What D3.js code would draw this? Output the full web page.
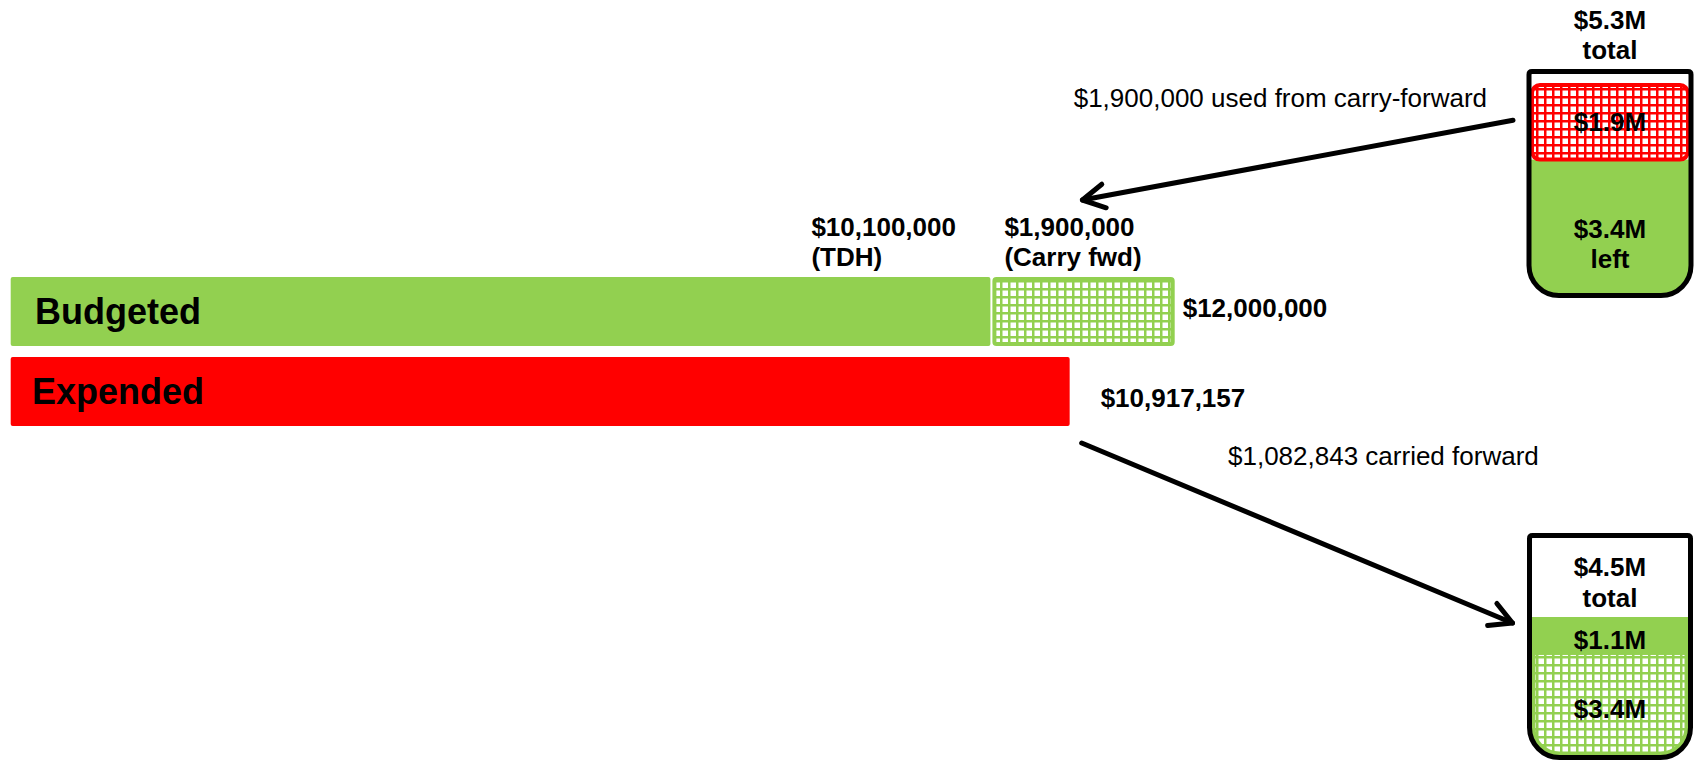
<!DOCTYPE html>
<html>
<head>
<meta charset="utf-8">
<script src="https://cdn.jsdelivr.net/npm/d3@7"></script>
<style>
    body { margin: 0; background: #fff; }
    text { font-family: "Liberation Sans", Arial, sans-serif; fill: #000; }
</style>
</head>
<body>
<div id="chart"></div>
<script>
// ==== Data ====
const barCategories = ["Budgeted", "Expended"];
const budgetSources = ["(TDH)", "(Carry fwd)"];
const budgetValues = [10100000, 1900000];
const expendedValues = [10917157];
const carryUsedText = "$1,900,000 used from carry-forward";
const carriedText = "$1,082,843 carried forward";

// reserve jars, in $M, stacked bottom -> top
const startJarParts = ["left", "used"];
const startJarValues = [3.4, 1.9];
const startJarTotal = 5.3;
const endJarParts = ["old", "new"];
const endJarValues = [3.4, 1.1];
const endJarTotal = 4.5;

const green = "#92d050", red = "#ff0000";
const fmtDollar = d3.format("$,");
const fmtM = d => d3.format("$.1f")(d) + "M";

const width = 1698, height = 761;

const svg = d3.select("#chart")
              .append("svg")
              .attr("width", width)
              .attr("height", height);

const defs = svg.append("defs");

// grid hatch: white squares on coloured lines
function hatch(id, color) {
    const p = defs.append("pattern")
        .attr("id", id)
        .attr("patternUnits", "userSpaceOnUse")
        .attr("width", 8)
        .attr("height", 8);
    p.append("rect").attr("width", 8).attr("height", 8).attr("fill", color);
    p.append("rect").attr("x", 2.5).attr("y", 2.5).attr("width", 5.5).attr("height", 5.5).attr("fill", "#fff");
}
hatch("hatchGreen", green);
hatch("hatchRed", red);

// ==== Bars ====
const x = d3.scaleLinear().domain([0, 11000000]).range([10.7, 10.7 + 1067]);
const y = d3.scaleBand().domain(barCategories).range([277, 426]).paddingInner(0.1375);

const starts = [0, ...d3.cumsum(budgetValues)];

const budgetG = svg.append("g");
budgetG.selectAll("rect")
    .data(budgetValues)
    .enter()
    .append("rect")
    .attr("x", (d, i) => i === 0 ? x(starts[i]) : x(starts[i]) + 4)
    .attr("y", (d, i) => i === 0 ? y("Budgeted") : y("Budgeted") + 2)
    .attr("width", (d, i) => i === 0 ? x(starts[i] + d) - x(starts[i]) : x(starts[i] + d) - x(starts[i]) - 6)
    .attr("height", (d, i) => i === 0 ? y.bandwidth() : y.bandwidth() - 4)
    .attr("rx", 2)
    .attr("fill", (d, i) => i === 0 ? green : "url(#hatchGreen)")
    .attr("stroke", (d, i) => i === 0 ? "none" : green)
    .attr("stroke-width", 4);

svg.append("rect")
    .attr("x", x(0))
    .attr("y", y("Expended"))
    .attr("width", x(expendedValues[0]) - x(0))
    .attr("height", y.bandwidth())
    .attr("rx", 2)
    .attr("fill", red);

// bar names
svg.selectAll("text.cat")
    .data(barCategories)
    .enter()
    .append("text")
    .attr("class", "cat")
    .attr("x", (d, i) => i === 0 ? 35 : 32)
    .attr("y", d => y(d) + y.bandwidth() / 2)
    .attr("dy", "0.36em")
    .style("font-size", "36px")
    .style("font-weight", "bold")
    .text(d => d);

// segment labels above budget bar
const segLabelX = [x(starts[1]) - 179, x(starts[1]) + 14];
budgetSources.forEach((s, i) => {
    const t = svg.append("text")
        .attr("x", segLabelX[i])
        .attr("y", y("Budgeted") - 41)
        .style("font-size", "26px")
        .style("font-weight", "bold");
    t.append("tspan").attr("x", segLabelX[i]).text(fmtDollar(budgetValues[i]));
    t.append("tspan").attr("x", segLabelX[i]).attr("dy", 30).text(s);
});

// totals at bar ends
svg.append("text")
    .attr("x", x(d3.sum(budgetValues)) + 8)
    .attr("y", y("Budgeted") + y.bandwidth() / 2 + 5)
    .style("font-size", "26px")
    .style("font-weight", "bold")
    .text(fmtDollar(d3.sum(budgetValues)));

svg.append("text")
    .attr("x", x(expendedValues[0]) + 31)
    .attr("y", y("Expended") + y.bandwidth() / 2 + 15)
    .style("font-size", "26px")
    .style("font-weight", "bold")
    .text(fmtDollar(expendedValues[0]));

// ==== Jars ====
function jarPath(x0, x1, y0, y1, r) {
    return `M${x0},${y0 + 3} Q${x0},${y0} ${x0 + 3},${y0} L${x1 - 3},${y0} Q${x1},${y0} ${x1},${y0 + 3}` +
           ` L${x1},${y1 - r} A${r},${r} 0 0 1 ${x1 - r},${y1} L${x0 + r},${y1} A${r},${r} 0 0 1 ${x0},${y1 - r} Z`;
}

const jarText = (cx, cy, str) => svg.append("text")
    .attr("x", cx).attr("y", cy).attr("dy", "0.35em")
    .attr("text-anchor", "middle")
    .style("font-size", "26px").style("font-weight", "bold")
    .text(str);

// top jar: reserve before
const jA = { x0: 1529, x1: 1691, y0: 71.5, y1: 295.5 };
const yA = d3.scaleLinear().domain([0, startJarTotal]).range([293, 85]);
const pathA = jarPath(jA.x0, jA.x1, jA.y0, jA.y1, 30);
defs.append("clipPath").attr("id", "clipA").append("path").attr("d", pathA);

const gA = svg.append("g").attr("clip-path", "url(#clipA)");
gA.append("rect")
    .attr("x", jA.x0).attr("y", yA(startJarValues[0]))
    .attr("width", jA.x1 - jA.x0).attr("height", jA.y1 - yA(startJarValues[0]))
    .attr("fill", green);
gA.append("rect")
    .attr("x", jA.x0 + 3).attr("y", yA(d3.sum(startJarValues)))
    .attr("width", jA.x1 - jA.x0 - 6).attr("height", yA(startJarValues[0]) - yA(d3.sum(startJarValues)))
    .attr("rx", 8)
    .attr("fill", "url(#hatchRed)")
    .attr("stroke", red)
    .attr("stroke-width", 4);
svg.append("path").attr("d", pathA).attr("fill", "none").attr("stroke", "#000").attr("stroke-width", 5);

const cxA = (jA.x0 + jA.x1) / 2;
jarText(cxA, jA.y0 - 52, fmtM(startJarTotal));
jarText(cxA, jA.y0 - 22, "total");
const usedMid = (yA(d3.sum(startJarValues)) + yA(startJarValues[0])) / 2;
jarText(cxA, usedMid, fmtM(startJarValues[1]));
const leftMid = (yA(startJarValues[0]) + yA(0)) / 2;
jarText(cxA, leftMid + 3, fmtM(startJarValues[0]));
jarText(cxA, leftMid + 33, startJarParts[0]);

// bottom jar: reserve after
const jB = { x0: 1529.5, x1: 1690.5, y0: 535.5, y1: 757.5 };
const yB = d3.scaleLinear().domain([0, endJarTotal]).range([756, 617]);
const pathB = jarPath(jB.x0, jB.x1, jB.y0, jB.y1, 30);
const innerB = jarPath(jB.x0 + 6, jB.x1 - 6, jB.y0, jB.y1 - 6, 24);
defs.append("clipPath").attr("id", "clipB").append("path").attr("d", pathB);
defs.append("clipPath").attr("id", "clipBin").append("path").attr("d", innerB);

svg.append("g").attr("clip-path", "url(#clipB)")
    .append("rect")
    .attr("x", jB.x0).attr("y", yB(d3.sum(endJarValues)))
    .attr("width", jB.x1 - jB.x0).attr("height", jB.y1 - yB(d3.sum(endJarValues)))
    .attr("fill", green);
svg.append("g").attr("clip-path", "url(#clipBin)")
    .append("rect")
    .attr("x", jB.x0).attr("y", yB(endJarValues[0]) + 4)
    .attr("width", jB.x1 - jB.x0).attr("height", yB(0) - yB(endJarValues[0]))
    .attr("fill", "url(#hatchGreen)");
svg.append("path").attr("d", pathB).attr("fill", "none").attr("stroke", "#000").attr("stroke-width", 5);

const cxB = (jB.x0 + jB.x1) / 2;
const emptyMid = (jB.y0 + yB(d3.sum(endJarValues))) / 2;
jarText(cxB, emptyMid - 9, fmtM(endJarTotal));
jarText(cxB, emptyMid + 22, "total");
jarText(cxB, (yB(d3.sum(endJarValues)) + yB(endJarValues[0])) / 2 + 6, fmtM(endJarValues[1]));
jarText(cxB, (yB(endJarValues[0]) + yB(0)) / 2 + 5, fmtM(endJarValues[0]));

// ==== Arrows ====
function arrow(x1, y1, x2, y2) {
    const a = Math.atan2(y2 - y1, x2 - x1);
    const len = 25, spread = 0.5;
    const g = svg.append("g")
        .attr("stroke", "#000")
        .attr("stroke-width", 5)
        .attr("fill", "none")
        .attr("stroke-linecap", "round")
        .attr("stroke-linejoin", "round");
    g.append("line").attr("x1", x1).attr("y1", y1).attr("x2", x2).attr("y2", y2);
    g.append("path").attr("d", d3.line()([
        [x2 - len * Math.cos(a - spread), y2 - len * Math.sin(a - spread)],
        [x2, y2],
        [x2 - len * Math.cos(a + spread), y2 - len * Math.sin(a + spread)]
    ]));
}

arrow(jA.x0 - 16, usedMid - 2, x(starts[1]) + 92, y("Budgeted") - 77);
arrow(x(expendedValues[0]) + 12, y("Expended") + y.bandwidth() + 17, jB.x0 - 17, yB(d3.sum(endJarValues)) + 6);

svg.append("text")
    .attr("x", jA.x0 - 42)
    .attr("y", 107)
    .attr("text-anchor", "end")
    .style("font-size", "26px")
    .text(carryUsedText);

svg.append("text")
    .attr("x", 1228)
    .attr("y", 465)
    .style("font-size", "26px")
    .text(carriedText);
</script>
</body>
</html>
